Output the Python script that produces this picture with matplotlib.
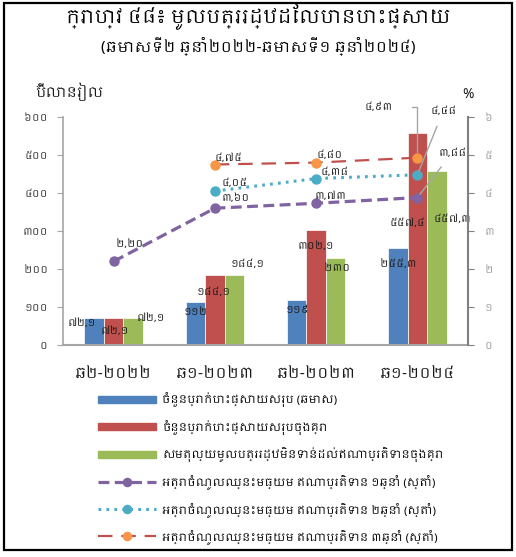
import numpy as np
import matplotlib
matplotlib.use("Agg")
import matplotlib.pyplot as plt
from matplotlib import font_manager as fm
from matplotlib.ft2font import FT2Font
from matplotlib.lines import Line2D
from matplotlib.patches import Patch, Rectangle

# ---------------- data ----------------
categories = ["ឆ២-២០២២", "ឆ១-២០២៣", "ឆ២-២០២៣", "ឆ១-២០២៤"]
issued_half = [72.1, 112, 119, 255.3]
issued_cum = [72.1, 184.1, 302.1, 557.4]
outstanding = [72.1, 184.1, 230, 457.3]
yield_1y = [2.20, 3.60, 3.73, 3.88]
yield_2y = [np.nan, 4.05, 4.38, 4.48]
yield_3y = [np.nan, 4.75, 4.80, 4.93]

issued_half_lbl = ["៧២,១", "១១២", "១១៩", "២៥៥,៣"]
issued_cum_lbl = ["៧២,១", "១៨៤,១", "៣០២,១", "៥៥៧,៤"]
outstanding_lbl = ["៧២,១", "១៨៤,១", "២៣០", "៤៥៧,៣"]
yield_1y_lbl = ["២,២០", "៣,៦០", "៣,៧៣", "៣,៨៨"]
yield_2y_lbl = [None, "៤,០៥", "៤,៣៨", "៤,៤៨"]
yield_3y_lbl = [None, "៤,៧៥", "៤,៨០", "៤,៩៣"]

left_ticks = [0, 100, 200, 300, 400, 500, 600]
left_tick_lbl = ["០", "១០០", "២០០", "៣០០", "៤០០", "៥០០", "៦០០"]
right_ticks = [0, 1, 2, 3, 4, 5, 6]
right_tick_lbl = ["០", "១", "២", "៣", "៤", "៥", "៦"]

title = "ក្រាហ្វ ៤៨៖ មូលបត្ររដ្ឋដែលបានបោះផ្សាយ"
subtitle = "(ឆមាសទី២ ឆ្នាំ២០២២-ឆមាសទី១ ឆ្នាំ២០២៤)"
ylabel_left = "ប៊ីលានរៀល"
ylabel_right = "%"
legend_labels = [
    "ចំនួនប្រាក់បោះផ្សាយសរុប (ឆមាស)",
    "ចំនួនប្រាក់បោះផ្សាយសរុបចុងគ្រា",
    "សមតុល្យមូលបត្ររដ្ឋមិនទាន់ដល់ឥណាប្រតិទានចុងគ្រា",
    "អត្រាចំណូលឈ្នះមធ្យម ឥណាប្រតិទាន ១ឆ្នាំ (ស្តាំ)",
    "អត្រាចំណូលឈ្នះមធ្យម ឥណាប្រតិទាន ២ឆ្នាំ (ស្តាំ)",
    "អត្រាចំណូលឈ្នះមធ្យម ឥណាប្រតិទាន ៣ឆ្នាំ (ស្តាំ)",
]

# ---------------- font ----------------
khmer_fam = None
for f in fm.fontManager.ttflist:
    if "khmer" in f.name.lower():
        khmer_fam = f.name
        break
if khmer_fam is None:
    for f in fm.fontManager.ttflist:
        try:
            if 0x1780 in FT2Font(f.fname).get_charmap():
                khmer_fam = f.name
                break
        except Exception:
            pass
fams = ([khmer_fam] if khmer_fam else []) + ["DejaVu Sans"]
plt.rcParams["font.family"] = fams

# ---------------- colours ----------------
c_blue = "#4F81BD"
c_red = "#C0504D"
c_green = "#9BBB59"
c_purple = "#8064A2"
c_cyan = "#4BACC6"
c_orange = "#F79646"
c_axis = "#A6A6A6"

fig = plt.figure(figsize=(5.16, 5.57), dpi=100)
ax = fig.add_axes([63 / 516, 1 - 345 / 557, 405 / 516, 228 / 557])
ax2 = ax.twinx()

x = np.arange(len(categories))
w = 0.193
b1 = ax.bar(x - w, issued_half, w, color=c_blue, edgecolor="white", linewidth=0.5, zorder=2)
b2 = ax.bar(x, issued_cum, w, color=c_red, edgecolor="white", linewidth=0.5, zorder=2)
b3 = ax.bar(x + w, outstanding, w, color=c_green, edgecolor="white", linewidth=0.5, zorder=2)

ax.set_xlim(-0.5, 3.5)
ax.set_ylim(0, 600)
ax2.set_ylim(0, 6)

l1, = ax2.plot(x, yield_1y, color=c_purple, lw=2.3, ls=(0, (3.4, 1.7)),
               marker="o", ms=6.5, mfc=c_purple, mec=c_purple, zorder=5)
l2, = ax2.plot(x, yield_2y, color=c_cyan, lw=2.2, ls=(0, (0.9, 1.7)),
               marker="o", ms=6.5, mfc=c_cyan, mec=c_cyan, zorder=5)
l3, = ax2.plot(x, yield_3y, color=c_red, lw=1.6, ls=(0, (6.5, 4)),
               marker="o", ms=6.5, mfc=c_orange, mec=c_orange, zorder=5)

# axes styling
for a in (ax, ax2):
    a.spines["top"].set_visible(False)
    a.set_facecolor("none")
ax.spines["right"].set_visible(False)
ax2.spines["left"].set_visible(False)
ax2.spines["bottom"].set_visible(False)
ax.spines["left"].set_color(c_axis)
ax.spines["bottom"].set_color(c_axis)
ax2.spines["right"].set_color("#808080")
ax.spines["bottom"].set_linewidth(1.5)
ax.spines["left"].set_linewidth(1.2)
ax2.spines["right"].set_linewidth(1.5)

ax.set_yticks(left_ticks)
ax.set_yticklabels(left_tick_lbl)
ax.tick_params(axis="y", length=4, color=c_axis, labelsize=7.5, labelcolor="#333333", pad=7)
ax2.set_yticks(right_ticks)
ax2.set_yticklabels(right_tick_lbl)
ax2.tick_params(axis="y", length=4, color="#808080", labelsize=7.5, labelcolor="#9A9A9A", pad=8)
ax.set_xticks(x)
ax.set_xticklabels(categories, fontsize=11, color="#1a1a1a")
ax.tick_params(axis="x", length=0, pad=15)

fig.text(35 / 516, 1 - 92 / 557, ylabel_left, fontsize=10, va="center", ha="left", color="#1a1a1a")
fig.text(468 / 516, 1 - 95 / 557, ylabel_right, fontsize=10, va="center", ha="center", color="#1a1a1a")

fig.text(0.5, 1 - 17 / 557, title, fontsize=13.5, fontweight="bold", ha="center", va="center")
fig.text(0.5, 1 - 46 / 557, subtitle, fontsize=11, ha="center", va="center")

# bar labels (offsets in pixels from bar top)
lab_fs = 7.5
off_blue = [(-12, -5), (0, -10), (1, -10), (0, -16)]
off_red = [(1, -13), (-1, -17), (0, -16), (-10, -90)]
off_green = [(18, 0), (13, 11), (1, -10), (16, -48)]
for vals, lbls, offs, dx in ((issued_half, issued_half_lbl, off_blue, -w),
                             (issued_cum, issued_cum_lbl, off_red, 0),
                             (outstanding, outstanding_lbl, off_green, w)):
    for i, (v, s) in enumerate(zip(vals, lbls)):
        ax.annotate(s, xy=(x[i] + dx, v), xytext=offs[i], textcoords="offset pixels",
                    ha="center", va="center", fontsize=lab_fs, color="#1a1a1a", zorder=6)

# line labels
off_1y = [(16, 17), (21, 10), (14, 7), (35, 45)]
off_2y = [None, (20, 8), (18, 7), (26, 64)]
off_3y = [None, (14, 7), (14, 8), (-39, 51)]
for vals, lbls, offs in ((yield_1y, yield_1y_lbl, off_1y),
                         (yield_2y, yield_2y_lbl, off_2y),
                         (yield_3y, yield_3y_lbl, off_3y)):
    for i, (v, s) in enumerate(zip(vals, lbls)):
        if s is None:
            continue
        if i == len(vals) - 1:
            if offs[i][0] < 0:
                ax2.annotate(s, xy=(x[i], v), xytext=offs[i], textcoords="offset pixels",
                             ha="center", va="center", fontsize=lab_fs, color="#1a1a1a",
                             arrowprops=dict(arrowstyle="-", color="#A6A6A6", lw=1.0,
                                             connectionstyle="angle,angleA=0,angleB=90,rad=0",
                                             shrinkA=12, shrinkB=4), zorder=6)
            else:
                ax2.annotate(s, xy=(x[i], v), xytext=offs[i], textcoords="offset pixels",
                             ha="center", va="center", fontsize=lab_fs, color="#1a1a1a",
                             arrowprops=dict(arrowstyle="-", color="#A6A6A6", lw=1.0,
                                             shrinkA=6, shrinkB=3), zorder=6)
        else:
            ax2.annotate(s, xy=(x[i], v), xytext=offs[i], textcoords="offset pixels",
                         ha="center", va="center", fontsize=lab_fs, color="#1a1a1a", zorder=6)

# legend
handles = [Patch(color=c_blue), Patch(color=c_red), Patch(color=c_green), l1, l2, l3]
fig.legend(handles, legend_labels, loc="upper left", bbox_to_anchor=(98 / 516, 1 - 392 / 557),
           frameon=False, fontsize=8, handlelength=5.2, handleheight=0.6, markerscale=0.9,
           labelspacing=1.12, borderpad=0, borderaxespad=0, handletextpad=0.6)

# outer frame
fig.add_artist(Rectangle((4 / 516, 1 - 550 / 557), 508 / 516, 547 / 557,
                         transform=fig.transFigure, fill=False, edgecolor="black", lw=1.6))

fig.savefig("out.png", dpi=100)
